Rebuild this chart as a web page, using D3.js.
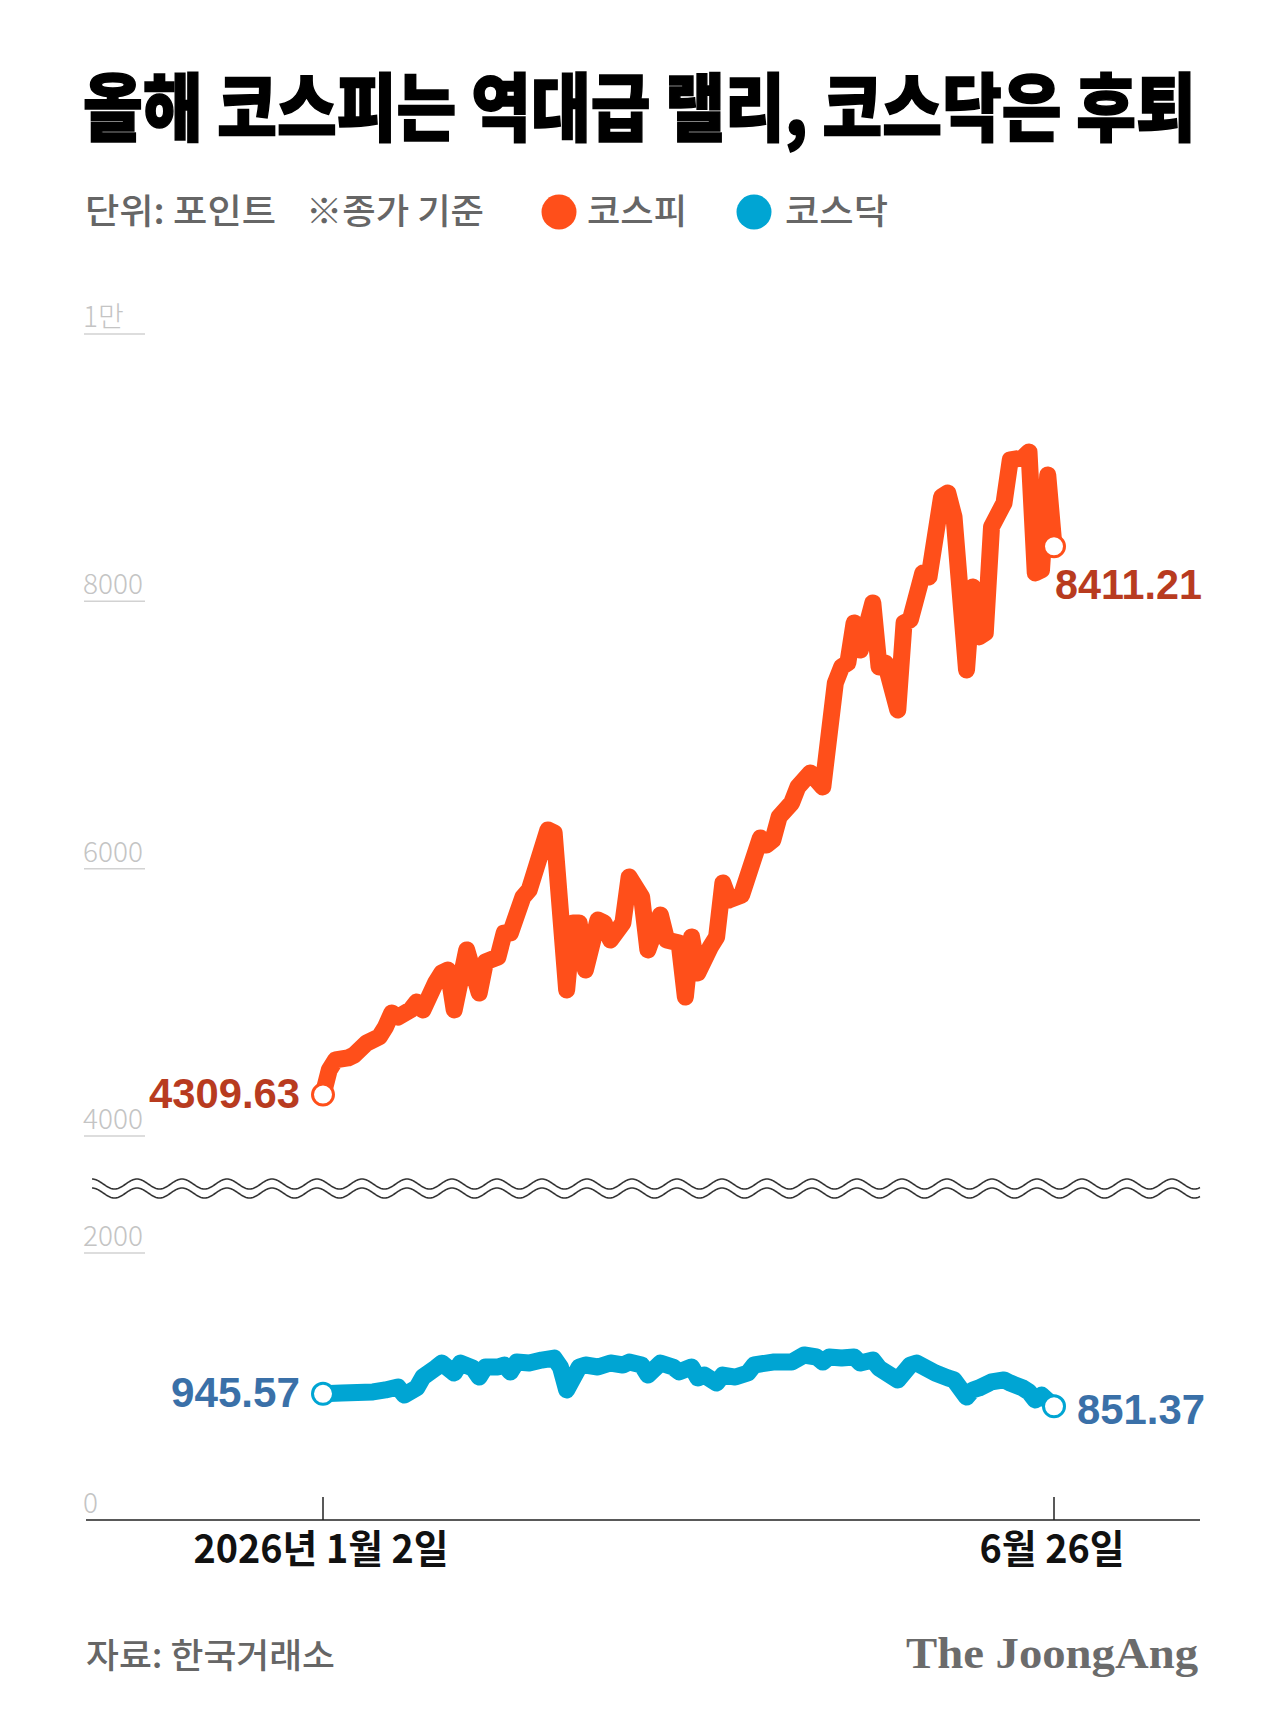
<!DOCTYPE html>
<html>
<head>
<meta charset="utf-8">
<script src="https://cdn.jsdelivr.net/npm/d3@7"></script>
<style>
  body { margin: 0; background: #fff; }
  svg { display: block; }
</style>
</head>
<body>
<div id="chart"></div>
<script>
// 거래일 인덱스 (2026-01-02 = 0 ... 2026-06-26 = 117)
const kospiIdx = [0,1,2,4,5,7,9,10,11,12,14,15,16,18,19,20,21,23,25,26,28,29,30,32,33,36,37,39,40,41,42,44,45,46,48,49,51,52,54,55,57,58,59,60,62,63,64,65,67,70,71,72,73,75,76,78,80,82,83,84,85,86,88,89,90,92,93,94,96,97,99,100,101,103,104,105,106,107,109,110,112,113,114,115,116,117];
const kospiVal = [4309.63,4494,4569,4584,4606,4696,4741,4816,4920,4890,4943,5003,4943,5145,5220,5242,4943,5392,5070,5302,5339,5519,5519,5788,5841,6290,6267,5092,5594,5594,5242,5616,5594,5467,5594,5938,5788,5392,5654,5467,5444,5040,5489,5220,5414,5489,5893,5766,5803,6230,6177,6215,6387,6491,6611,6716,6611,7389,7509,7539,7838,7636,7988,7509,7539,7187,7838,7861,8212,8183,8781,8811,8631,7487,8108,7734,7764,8557,8736,9058,9073,9118,8212,8235,8946,8411.21];

const kosdaqIdx = [0,3,8,10,12,13,15,16,18,19,21,22,24,25,26,28,29,30,31,33,35,37,38,39,41,42,44,46,48,49,51,52,54,56,57,59,60,61,63,64,66,68,69,72,75,77,79,80,81,83,85,86,88,89,92,94,95,98,100,101,103,104,105,107,109,110,112,113,114,115,117];
const kosdaqVal = [945.57,951,959,974,996,936,989,1071,1138,1176,1101,1176,1138,1071,1146,1146,1161,1109,1183,1176,1198,1213,1146,974,1146,1161,1146,1176,1161,1183,1161,1086,1176,1146,1109,1146,1064,1086,1026,1086,1071,1101,1161,1183,1183,1236,1221,1183,1221,1213,1221,1176,1198,1138,1049,1161,1176,1101,1064,1049,921,974,989,1034,1049,1026,989,959,899,936,851.37];

const lastIdx = 117;
const dateLabels = ["2026년 1월 2일", "6월 26일"];
const topTicks = [4000, 6000, 8000, 10000];
const topTickLabels = ["4000", "6000", "8000", "1만"];
const botTicks = [0, 2000];
const botTickLabels = ["0", "2000"];

const title = "올해 코스피는 역대급 랠리, 코스닥은 후퇴";
const unitText = "단위: 포인트";
const noteText = "※종가 기준";
const seriesNames = ["코스피", "코스닥"];
const sourceText = "자료: 한국거래소";
const brandText = "The JoongAng";

const ORANGE = "#ff4f1a", BLUE = "#00a5d3";
const ORANGE_TXT = "#b83b1f", BLUE_TXT = "#3a70a8";
const KR = "'Noto Sans CJK KR', 'Noto Sans', sans-serif";
const NUM = "'Liberation Sans', Arial, sans-serif";

const W = 1280, H = 1736;
const svg = d3.select("#chart").append("svg")
    .attr("width", W).attr("height", H)
    .style("background", "#fff");

const x = d3.scaleLinear().domain([0, lastIdx]).range([323, 1054]);
const yTop = d3.scaleLinear().domain([4000, 10000]).range([1136, 334]);
const yBot = d3.scaleLinear().domain([0, 2000]).range([1520, 1253]);

// 제목: 자연 폭을 잰 뒤 가로로 눌러서 맞춤
const titleEl = svg.append("text")
    .attr("font-family", KR).attr("font-weight", 900).attr("font-size", 74)
    .attr("fill", "#000").attr("stroke", "#000").attr("stroke-width", 1.6)
    .text(title);
const tw = titleEl.node().getComputedTextLength();
titleEl.attr("transform", `translate(83,135) scale(${1113 / tw},1)`);

// 단위, 범례
const sub = svg.append("g")
    .attr("font-family", KR).attr("font-weight", 500).attr("font-size", 35)
    .attr("fill", "#666");
sub.append("text").attr("x", 85).attr("y", 224)
    .attr("textLength", 191).attr("lengthAdjust", "spacingAndGlyphs").text(unitText);
sub.append("text").attr("x", 306).attr("y", 224)
    .attr("textLength", 178).attr("lengthAdjust", "spacingAndGlyphs").text(noteText);

const legend = [
    { name: seriesNames[0], color: ORANGE, cx: 559, tx: 587, w: 100 },
    { name: seriesNames[1], color: BLUE, cx: 754, tx: 785, w: 103 }
];
legend.forEach(l => {
    svg.append("circle").attr("cx", l.cx).attr("cy", 212).attr("r", 17.5).attr("fill", l.color);
    sub.append("text").attr("x", l.tx).attr("y", 224)
        .attr("textLength", l.w).attr("lengthAdjust", "spacingAndGlyphs").text(l.name);
});

// y축 눈금 (짧은 밑줄 형태)
function drawTicks(ticks, labels, scale, skipLine) {
    const g = svg.append("g");
    ticks.forEach((t, i) => {
        const yy = scale(t);
        if (!skipLine(t)) {
            g.append("line")
                .attr("x1", 84).attr("x2", 145)
                .attr("y1", yy).attr("y2", yy)
                .attr("stroke", "#d2d2d2").attr("stroke-width", 1.5);
        }
        g.append("text")
            .attr("x", 83).attr("y", yy - 7)
            .attr("font-family", KR).attr("font-weight", 300).attr("font-size", 28)
            .attr("fill", "#c4c4c4")
            .text(labels[i]);
    });
}
drawTicks(topTicks, topTickLabels, yTop, () => false);
drawTicks(botTicks, botTickLabels, yBot, t => t === 0);

// 물결 (축 생략 표시)
function wave(cy) {
    const p = d3.path();
    for (let xx = 92; xx <= 1200; xx += 1) {
        const yy = cy - 5 * Math.cos(2 * Math.PI * (xx - 92) / 45);
        if (xx === 92) p.moveTo(xx, yy); else p.lineTo(xx, yy);
    }
    return p.toString();
}
[1184, 1193].forEach(cy => {
    svg.append("path").attr("d", wave(cy))
        .attr("fill", "none").attr("stroke", "#333").attr("stroke-width", 1.6);
});

// x축
svg.append("line")
    .attr("x1", 86).attr("x2", 1200).attr("y1", 1520).attr("y2", 1520)
    .attr("stroke", "#222").attr("stroke-width", 1.5);
[0, lastIdx].forEach((d, i) => {
    svg.append("line")
        .attr("x1", x(d)).attr("x2", x(d)).attr("y1", 1497).attr("y2", 1520)
        .attr("stroke", "#222").attr("stroke-width", 1.5);
    svg.append("text")
        .attr("x", x(d) - 2).attr("y", 1563)
        .attr("text-anchor", "middle")
        .attr("font-family", KR).attr("font-weight", 700).attr("font-size", 39)
        .attr("textLength", i === 0 ? 255 : 145).attr("lengthAdjust", "spacingAndGlyphs")
        .attr("fill", "#111")
        .text(dateLabels[i]);
});

// 선
const kospi = kospiIdx.map((d, i) => ({ i: d, v: kospiVal[i] }));
const kosdaq = kosdaqIdx.map((d, i) => ({ i: d, v: kosdaqVal[i] }));

svg.append("path").datum(kospi)
    .attr("d", d3.line().x(d => x(d.i)).y(d => yTop(d.v)))
    .attr("fill", "none").attr("stroke", ORANGE).attr("stroke-width", 17)
    .attr("stroke-linejoin", "round").attr("stroke-linecap", "round");

svg.append("path").datum(kosdaq)
    .attr("d", d3.line().x(d => x(d.i)).y(d => yBot(d.v)))
    .attr("fill", "none").attr("stroke", BLUE).attr("stroke-width", 17)
    .attr("stroke-linejoin", "round").attr("stroke-linecap", "round");

// 시작/끝 점과 값
function endPoints(data, scale, color, txtColor, firstW, lastW, lastDx, lastDy) {
    const first = data[0], last = data[data.length - 1];
    [first, last].forEach(d => {
        svg.append("circle")
            .attr("cx", x(d.i)).attr("cy", scale(d.v)).attr("r", 10.5)
            .attr("fill", "#fff").attr("stroke", color).attr("stroke-width", 3);
    });
    svg.append("text")
        .attr("x", x(first.i) - 23).attr("y", scale(first.v) + 13)
        .attr("text-anchor", "end")
        .attr("font-family", NUM).attr("font-weight", 700).attr("font-size", 42)
        .attr("textLength", firstW).attr("lengthAdjust", "spacingAndGlyphs")
        .attr("fill", txtColor)
        .text(first.v.toFixed(2));
    svg.append("text")
        .attr("x", x(last.i) + lastDx).attr("y", scale(last.v) + lastDy)
        .attr("font-family", NUM).attr("font-weight", 700).attr("font-size", 42)
        .attr("textLength", lastW).attr("lengthAdjust", "spacingAndGlyphs")
        .attr("fill", txtColor)
        .text(last.v.toFixed(2));
}
endPoints(kospi, yTop, ORANGE, ORANGE_TXT, 151, 147, 1, 53);
endPoints(kosdaq, yBot, BLUE, BLUE_TXT, 129, 128, 23, 18);

// 출처
svg.append("text")
    .attr("x", 86).attr("y", 1668)
    .attr("font-family", KR).attr("font-weight", 500).attr("font-size", 34)
    .attr("textLength", 249).attr("lengthAdjust", "spacingAndGlyphs")
    .attr("fill", "#666")
    .text(sourceText);
svg.append("text")
    .attr("x", 906).attr("y", 1668)
    .attr("font-family", "'Liberation Serif', 'DejaVu Serif', serif")
    .attr("font-weight", 700).attr("font-size", 44)
    .attr("textLength", 292).attr("lengthAdjust", "spacingAndGlyphs")
    .attr("fill", "#6b6b6b")
    .text(brandText);
</script>
</body>
</html>
